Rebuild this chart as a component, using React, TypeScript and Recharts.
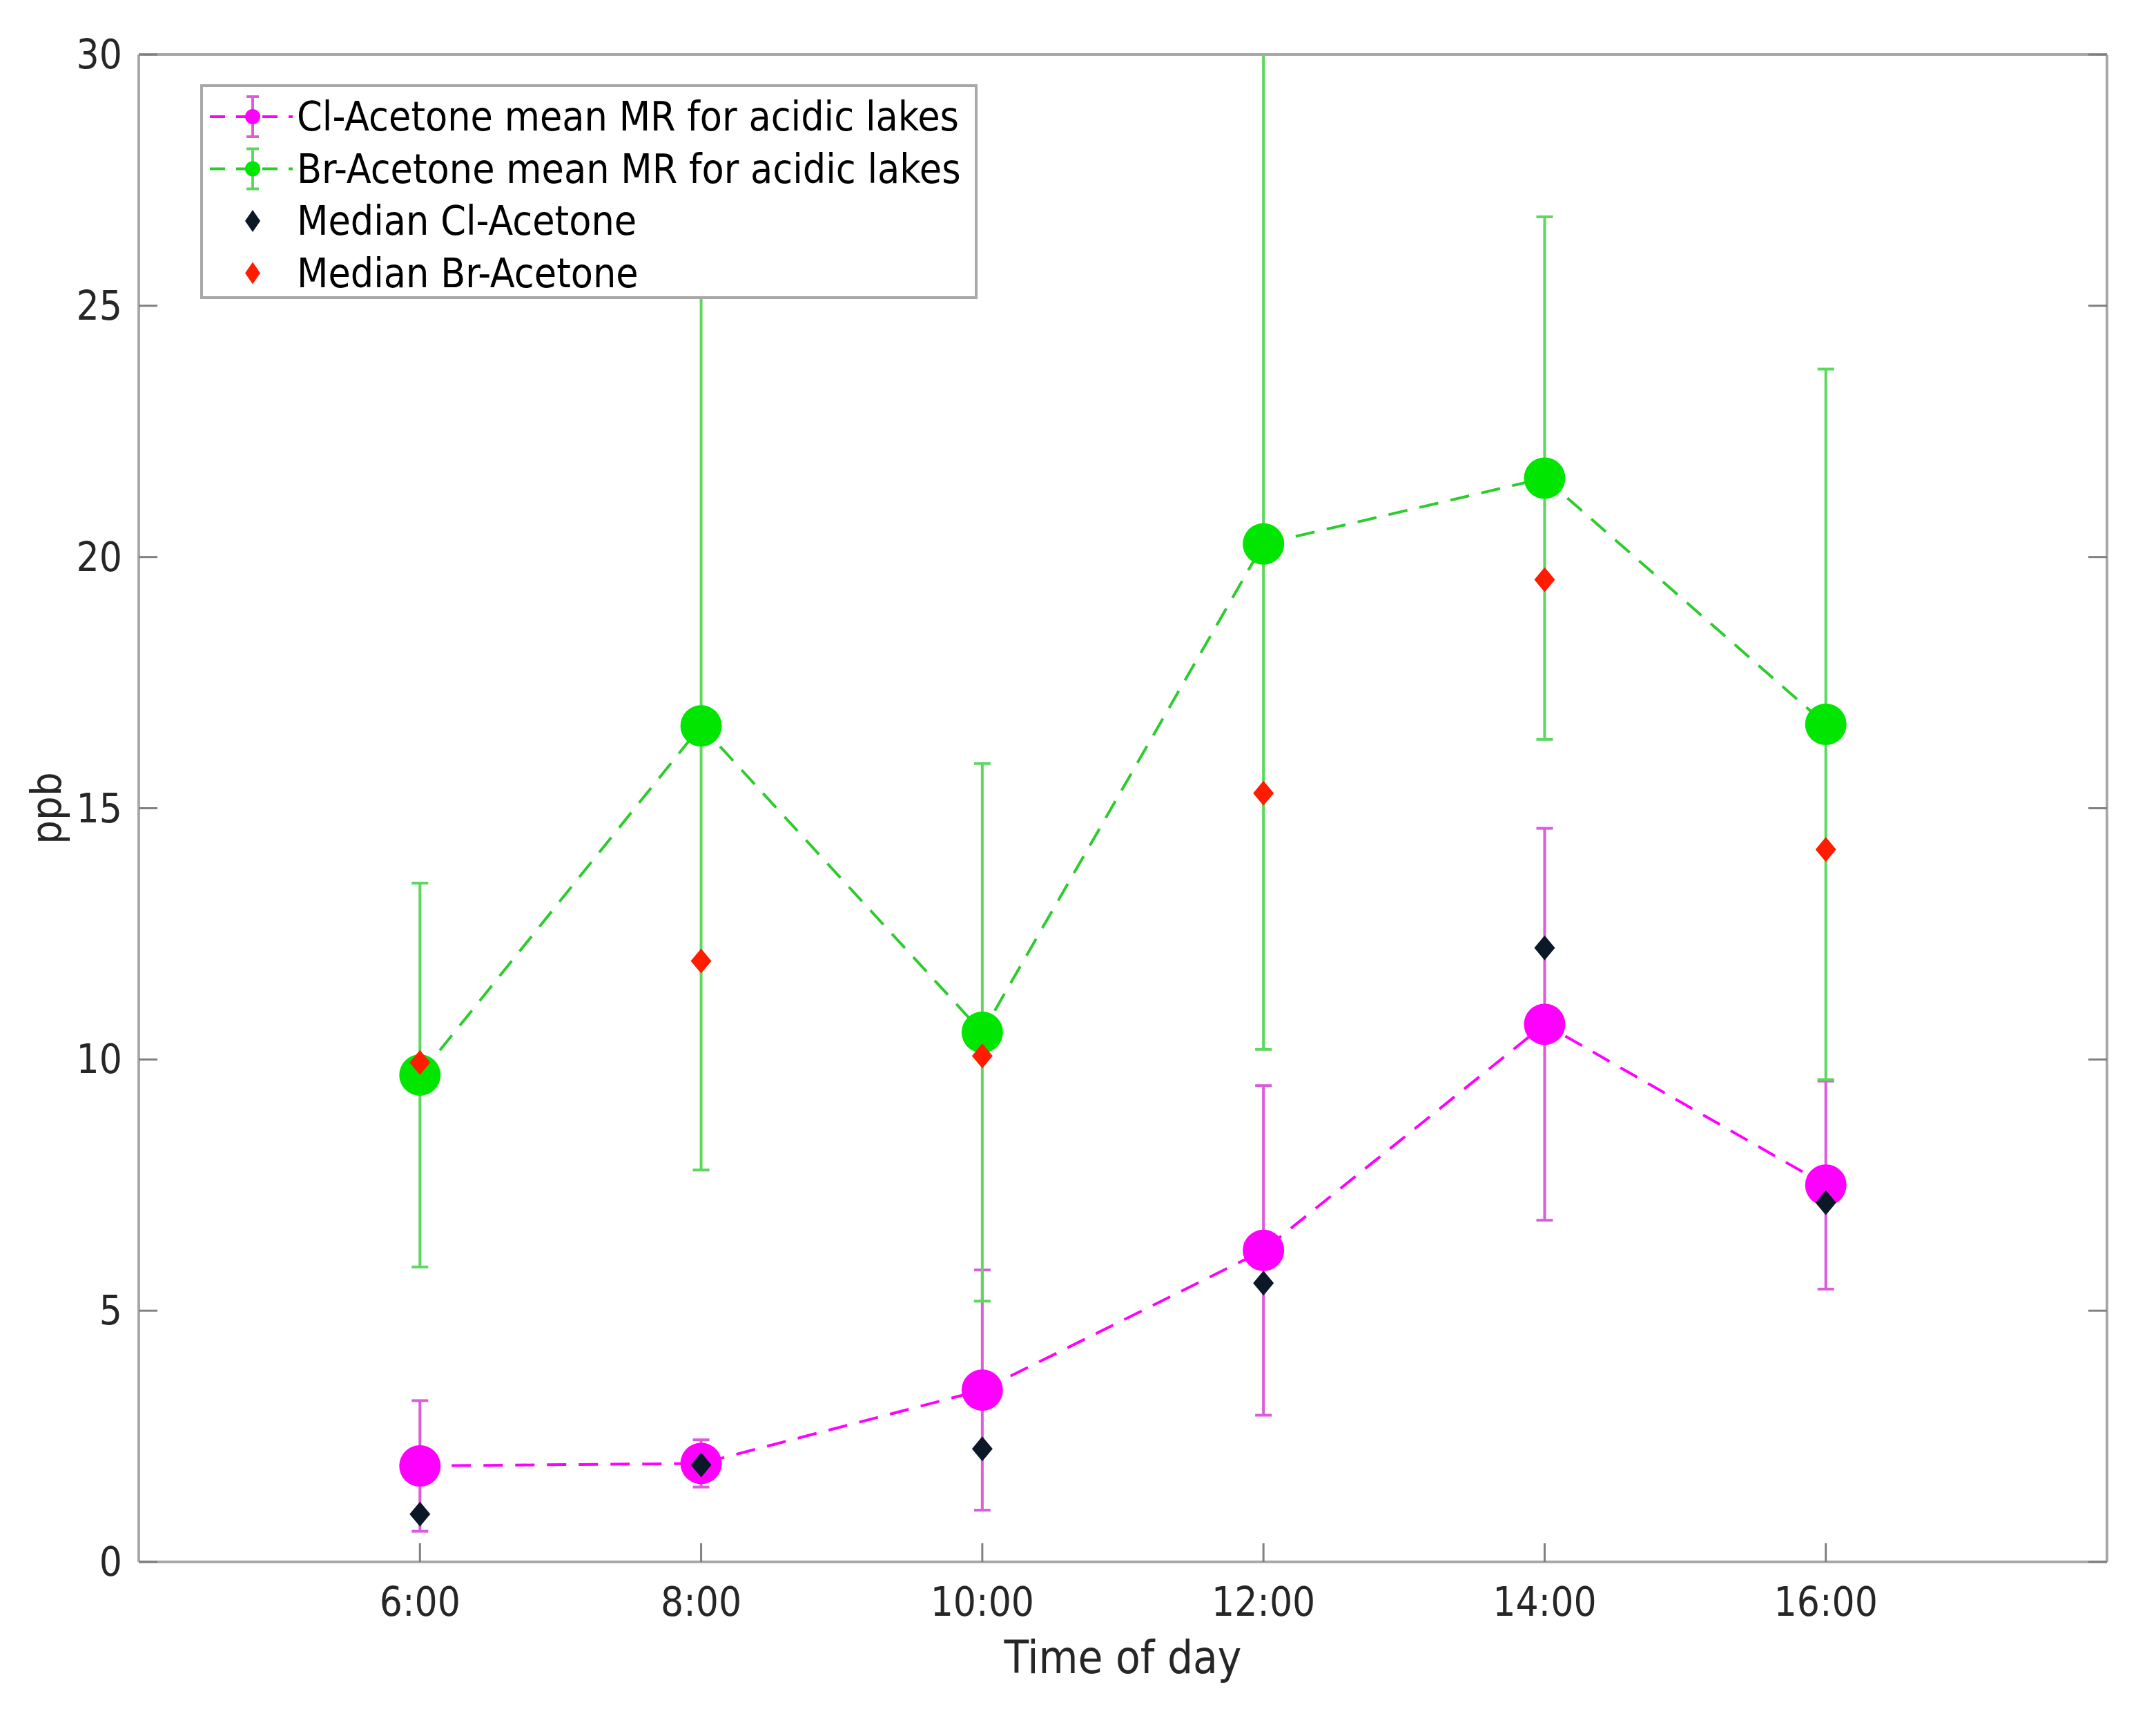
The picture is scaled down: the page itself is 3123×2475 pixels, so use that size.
import React from 'react';
import {
    ComposedChart, Line, XAxis, YAxis, ErrorBar, Legend, Label,
} from 'recharts';

// hours of the day
const hours = [6, 8, 10, 12, 14, 16];
// Cl-acetone mean mixing ratio and its spread (ppb)
const clMean = [1.91, 1.96, 3.42, 6.2, 10.7, 7.5];
const clSd = [1.3, 0.47, 2.39, 3.28, 3.9, 2.07];
// Br-acetone mean mixing ratio and its spread (ppb)
const brMean = [9.69, 16.64, 10.54, 20.26, 21.57, 16.67];
const brSd = [3.82, 8.84, 5.35, 10.06, 5.2, 7.07];
// medians
const clMedian = [0.95, 1.93, 2.25, 5.55, 12.22, 7.15];
const brMedian = [9.94, 11.96, 10.07, 15.3, 19.55, 14.18];

const xTicks = [6, 8, 10, 12, 14, 16];
const yTicks = [0, 5, 10, 15, 20, 25, 30];

const legendLabels = [
    'Cl-Acetone mean MR for acidic lakes',
    'Br-Acetone mean MR for acidic lakes',
    'Median Cl-Acetone',
    'Median Br-Acetone',
];

const data = hours.map((h, i) => ({
    hour: h,
    clMean: clMean[i],
    clErr: clSd[i],
    brMean: brMean[i],
    brErr: brSd[i],
    clMedian: clMedian[i],
    brMedian: brMedian[i],
}));

const FONT = "'DejaVu Sans Condensed', 'DejaVu Sans', sans-serif";
const TEXT_STYLE = { fontFamily: FONT, fontStretch: 'condensed' as const };
const MAGENTA = '#ff00ff';
const MAGENTA_BAR = '#dc5cdc';
const GREEN = '#00e600';
const GREEN_BAR = '#5cd85c';
const GREEN_LINE = '#2ccc2c';
const NAVY = '#0a1828';
const RED = '#ff1c00';
const AXIS = '#a8a8a8';
const TICK = '#808080';
const TICK_LEN = 27;

const W = 3107;
const H = 2459;
const TOP = 71;

const BottomTick = (props: any) => {
    const { x, y, payload } = props;
    return (
        <g>
            <line x1={x} y1={y} x2={x} y2={y - TICK_LEN} stroke={TICK} strokeWidth={3} />
            <text x={x} y={y + 58} textAnchor="middle" dominantBaseline="central"
                style={TEXT_STYLE} fontSize={58} fill="#262626">
                {`${payload.value}:00`}
            </text>
        </g>
    );
};

const TopTick = (props: any) => {
    const { x, y } = props;
    return <line x1={x} y1={y} x2={x} y2={y + TICK_LEN} stroke={TICK} strokeWidth={3} />;
};

const LeftTick = (props: any) => {
    const { x, y, payload } = props;
    return (
        <g>
            <line x1={x} y1={y} x2={x + TICK_LEN} y2={y} stroke={TICK} strokeWidth={3} />
            <text x={x - 24} y={y} textAnchor="end" dominantBaseline="central"
                style={TEXT_STYLE} fontSize={58} fill="#262626">
                {payload.value}
            </text>
        </g>
    );
};

const RightTick = (props: any) => {
    const { x, y } = props;
    return <line x1={x} y1={y} x2={x - TICK_LEN} y2={y} stroke={TICK} strokeWidth={3} />;
};

const Diamond = (color: string) => (props: any) => {
    const { cx, cy } = props;
    if (cx == null || cy == null) return null;
    const w = 15;
    const h = 18;
    return (
        <path d={`M${cx},${cy - h} L${cx + w},${cy} L${cx},${cy + h} L${cx - w},${cy} Z`} fill={color} />
    );
};

const LegendBox = () => {
    const rowY = (i: number) => 43 + i * 75.5;
    const meanIcon = (i: number, line: string, bar: string, dot: string) => (
        <g key={`icon-${i}`}>
            <line x1={10} y1={rowY(i)} x2={130} y2={rowY(i)} stroke={line} strokeWidth={4} strokeDasharray="22 16" />
            <line x1={72} y1={rowY(i) - 29} x2={72} y2={rowY(i) + 29} stroke={bar} strokeWidth={4} />
            <line x1={63} y1={rowY(i) - 29} x2={81} y2={rowY(i) - 29} stroke={bar} strokeWidth={4} />
            <line x1={63} y1={rowY(i) + 29} x2={81} y2={rowY(i) + 29} stroke={bar} strokeWidth={4} />
            <circle cx={72} cy={rowY(i)} r={11} fill={dot} />
        </g>
    );
    const diamondIcon = (i: number, color: string) => (
        <path key={`icon-${i}`}
            d={`M72,${rowY(i) - 16} L83,${rowY(i)} L72,${rowY(i) + 16} L61,${rowY(i)} Z`} fill={color} />
    );
    return (
        <div style={{ width: 1126, height: 311, border: `4px solid ${AXIS}`, boxSizing: 'border-box', background: 'white' }}>
            <svg width={1118} height={303} style={{ display: 'block' }}>
                {meanIcon(0, MAGENTA, MAGENTA_BAR, MAGENTA)}
                {meanIcon(1, GREEN_LINE, GREEN_BAR, GREEN)}
                {diamondIcon(2, NAVY)}
                {diamondIcon(3, RED)}
                {legendLabels.map((t, i) => (
                    <text key={t} x={136} y={rowY(i)} dominantBaseline="central"
                        style={TEXT_STYLE} fontSize={58.5} fill="#000">
                        {t}
                    </text>
                ))}
            </svg>
        </div>
    );
};

export default function App() {
    return (
        <div style={{ position: 'relative', width: W, height: H }}>
            {/* plot-area clip used to cut error bars that run past the top axis */}
            <svg width={0} height={0} style={{ position: 'absolute' }}>
                <defs>
                    <clipPath id="plot-clip" clipPathUnits="userSpaceOnUse">
                        <rect x={0} y={TOP} width={W} height={H - TOP} />
                    </clipPath>
                </defs>
            </svg>
            <style>{`.recharts-errorBars, .recharts-errorBar { clip-path: url(#plot-clip); }`}</style>
            <ComposedChart
                width={W}
                height={H}
                data={data}
                margin={{ top: TOP - 1, right: 62, left: 0, bottom: 0 }}
            >
                <XAxis
                    dataKey="hour"
                    type="number"
                    domain={[4, 18]}
                    ticks={xTicks}
                    interval={0}
                    height={205}
                    tickSize={0}
                    tickMargin={0}
                    tickLine={false}
                    tick={<BottomTick />}
                    axisLine={{ stroke: AXIS, strokeWidth: 4 }}
                    allowDataOverflow
                >
                    <Label value="Time of day" position="insideBottom" offset={44}
                        style={{ ...TEXT_STYLE, fontSize: 65, fill: '#262626' }} />
                </XAxis>
                <XAxis
                    xAxisId="top"
                    orientation="top"
                    type="number"
                    domain={[4, 18]}
                    ticks={xTicks}
                    interval={0}
                    height={1}
                    tickSize={0}
                    tickMargin={0}
                    tickLine={false}
                    tick={<TopTick />}
                    axisLine={{ stroke: AXIS, strokeWidth: 4 }}
                    allowDataOverflow
                />
                <YAxis
                    type="number"
                    domain={[0, 30]}
                    ticks={yTicks}
                    interval={0}
                    width={193}
                    tickSize={0}
                    tickMargin={0}
                    tickLine={false}
                    tick={<LeftTick />}
                    axisLine={{ stroke: AXIS, strokeWidth: 4 }}
                    allowDataOverflow
                >
                    <Label value="ppb" angle={-90} position="insideLeft" offset={58}
                        style={{ ...TEXT_STYLE, fontSize: 61, fill: '#262626', textAnchor: 'middle' }} />
                </YAxis>
                <YAxis
                    yAxisId="right"
                    orientation="right"
                    type="number"
                    domain={[0, 30]}
                    ticks={yTicks}
                    interval={0}
                    width={1}
                    tickSize={0}
                    tickMargin={0}
                    tickLine={false}
                    tick={<RightTick />}
                    axisLine={{ stroke: AXIS, strokeWidth: 4 }}
                    allowDataOverflow
                />
                <Line
                    dataKey="clMean"
                    stroke={MAGENTA}
                    strokeWidth={4}
                    strokeDasharray="28 18"
                    dot={{ r: 30, fill: MAGENTA, stroke: 'none', strokeDasharray: '0' }}
                    activeDot={false}
                    isAnimationActive={false}
                >
                    <ErrorBar dataKey="clErr" direction="y" width={12} stroke={MAGENTA_BAR} strokeWidth={4} />
                </Line>
                <Line
                    dataKey="brMean"
                    stroke={GREEN_LINE}
                    strokeWidth={4}
                    strokeDasharray="28 18"
                    dot={{ r: 30, fill: GREEN, stroke: 'none', strokeDasharray: '0' }}
                    activeDot={false}
                    isAnimationActive={false}
                >
                    <ErrorBar dataKey="brErr" direction="y" width={12} stroke={GREEN_BAR} strokeWidth={4} />
                </Line>
                <Line
                    dataKey="clMedian"
                    stroke="none"
                    dot={Diamond(NAVY)}
                    activeDot={false}
                    isAnimationActive={false}
                />
                <Line
                    dataKey="brMedian"
                    stroke="none"
                    dot={Diamond(RED)}
                    activeDot={false}
                    isAnimationActive={false}
                />
                <Legend
                    layout="vertical"
                    align="center"
                    verticalAlign="middle"
                    content={<LegendBox />}
                    wrapperStyle={{ position: 'absolute', left: 282, top: 114, width: 1126, height: 311 }}
                />
            </ComposedChart>
        </div>
    );
}
